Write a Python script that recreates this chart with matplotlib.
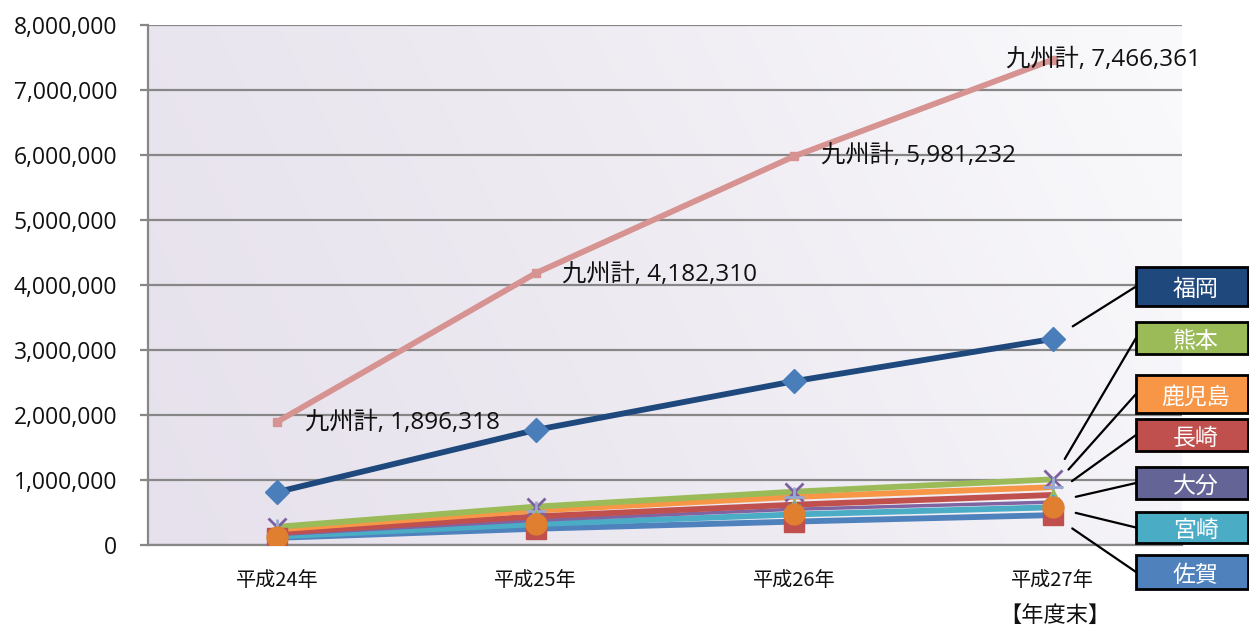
import numpy as np
import matplotlib
matplotlib.use("Agg")
import matplotlib.pyplot as plt
from matplotlib.colors import LinearSegmentedColormap
from matplotlib.patches import Rectangle

# ---- data ----
categories = ["平成24年", "平成25年", "平成26年", "平成27年"]
total_name = "九州計"
total_vals = [1896318, 4182310, 5981232, 7466361]
fukuoka = [815000, 1770000, 2520000, 3170000]
kumamoto = [280000, 590000, 820000, 1010000]
kagoshima = [240000, 530000, 740000, 890000]
nagasaki = [190000, 440000, 620000, 770000]
oita = [160000, 380000, 550000, 660000]
miyazaki = [130000, 320000, 470000, 580000]
saga = [110000, 250000, 360000, 460000]

pref_names = ["福岡", "熊本", "鹿児島", "長崎", "大分", "宮崎", "佐賀"]
pref_vals = [fukuoka, kumamoto, kagoshima, nagasaki, oita, miyazaki, saga]
yticks = [0, 1000000, 2000000, 3000000, 4000000, 5000000, 6000000, 7000000, 8000000]
xlabel_text = "【年度末】"

# ---- styles ----
line_colors = ["#1F497D", "#9BBB59", "#F79646", "#C0504D", "#8064A2", "#4BACC6", "#4F81BD"]
box_colors = ["#1F497D", "#9BBB59", "#F79646", "#C0504D", "#646496", "#4BACC6", "#4F81BD"]
markers = ["D", "x", "+", "^", (6, 2, 0), "o", "s"]
marker_colors = ["#4A7EBB", "#7D60A0", "#98A9D3", "#9BBB59", "#4BACC6", "#E07F30", "#C0504D"]
marker_sizes = [12, 13, 15, 9, 11, 15, 14]
# box layout (pixel top, bottom from top of image)
box_tb = [(267, 306), (322, 354), (375, 413), (419, 451), (467, 499), (512, 543), (555, 589)]

W, H = 1249, 625
fig = plt.figure(figsize=(W / 100, H / 100), dpi=100)
fig.patch.set_facecolor("white")
ax = fig.add_axes([148 / W, (H - 545) / H, (1182 - 148) / W, (545 - 25) / H])

num_font = ["Open Sans", "Noto Sans CJK JP"]
cjk_font = ["Noto Sans CJK JP", "DejaVu Sans"]

x = np.arange(len(categories))
ax.set_xlim(-0.5, 3.5)
ax.set_ylim(0, 8000000)

# background gradient
cmap = LinearSegmentedColormap.from_list("bg", ["#E6E1EC", "#EEEBF2", "#FAFAFC"])
gx, gy = np.meshgrid(np.linspace(0, 1, 300), np.linspace(0, 1, 100))
grad = 0.8 * gx + 0.2 * gy
ax.imshow(grad, extent=[-0.5, 3.5, 0, 8000000], aspect="auto", cmap=cmap,
          origin="lower", zorder=0, interpolation="bilinear")

# grid
ax.set_yticks(yticks)
ax.yaxis.grid(True, color="#878787", lw=1.6, zorder=1)
ax.set_axisbelow(False)
for s in ["top", "right"]:
    ax.spines[s].set_visible(False)
for s in ["left", "bottom"]:
    ax.spines[s].set_color("#878787")
    ax.spines[s].set_linewidth(1.6)
    ax.spines[s].set_zorder(1)
ax.tick_params(axis="y", length=6, width=1.6, color="#878787", pad=16)
ax.tick_params(axis="x", length=0, pad=18)
ax.set_yticklabels([f"{v:,}" for v in yticks], fontsize=16.5, family=num_font, color="#111111")
ax.set_xticks(x)
ax.set_xticklabels(categories, fontsize=14.5, family=cjk_font, color="#111111")

# total line
ax.plot(x, total_vals, color="#D69391", lw=4.2, marker="s", ms=6,
        mfc="#D69391", mec="#D69391", zorder=5, solid_capstyle="butt")
offsets = [(20, -1), (19, -1), (19, 0), (-34, 0)]
for xi, v, off in zip(x, total_vals, offsets):
    ax.annotate(f"{total_name}, {v:,}", xy=(xi, v), xytext=off, textcoords="offset points",
                ha="left", va="center", fontsize=17.5, family=num_font, color="#111111", zorder=8)

# prefecture lines (draw lower ones first)
order = [6, 5, 4, 3, 2, 1, 0]
for i in order:
    lw = 4.2 if i != 4 else 2.5
    ax.plot(x, pref_vals[i], color=line_colors[i], lw=lw, zorder=3 + (6 - i) * 0.1,
            solid_capstyle="butt")
for i in [1, 2, 3, 4, 6, 5, 0]:
    mk = markers[i]
    if mk in ("x", "+", (6, 2, 0)):
        ax.plot(x, pref_vals[i], ls="none", marker=mk, ms=marker_sizes[i],
                mec=marker_colors[i], mew=2, zorder=6)
    else:
        ax.plot(x, pref_vals[i], ls="none", marker=mk, ms=marker_sizes[i],
                mfc=marker_colors[i], mec=marker_colors[i], zorder=6)

# name boxes with leader lines
bx0, bx1 = 1136, 1248
for i, name in enumerate(pref_names):
    top, bot = box_tb[i]
    r = Rectangle((bx0, H - bot), bx1 - bx0, bot - top, transform=None,
                  facecolor=box_colors[i], edgecolor="black", lw=2, zorder=10)
    fig.patches.append(r)
    fig.text((bx0 + bx1) / 2 / W + 0.003, (H - (top + bot) / 2 - 3) / H, name,
             ha="center", va="center", color="white", fontsize=16.5, family=cjk_font, zorder=11)
    ax.annotate("", xy=(x[-1], pref_vals[i][-1]), xycoords="data",
                xytext=(bx0, H - (top + bot) / 2), textcoords="figure pixels",
                arrowprops=dict(arrowstyle="-", color="black", lw=1.6,
                                shrinkA=0, shrinkB=17), annotation_clip=False, zorder=9)

fig.text(1055 / W, (H - 615) / H, xlabel_text, ha="center", va="center",
         fontsize=16, family=cjk_font, color="#111111")

fig.savefig("out.png", dpi=100)
